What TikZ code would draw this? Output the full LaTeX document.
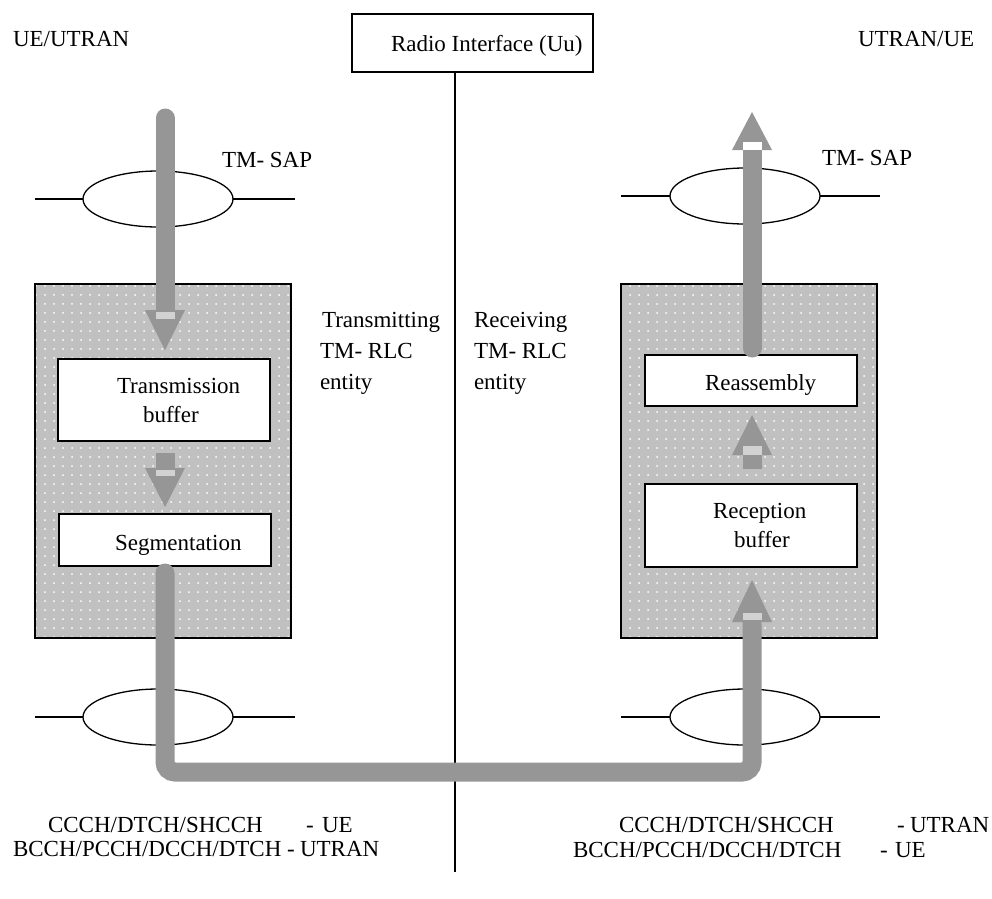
\documentclass[tikz,border=0pt]{standalone}
\usepackage{fontspec}
\setmainfont{Liberation Serif}
\usetikzlibrary{shapes.geometric,patterns.meta}
\definecolor{pipe}{HTML}{969696}
\definecolor{boxfill}{HTML}{C0C0C0}
\definecolor{lightrect}{HTML}{D2D2D2}
\begin{document}
\begin{tikzpicture}[x=1pt,y=-1pt, font=\fontsize{23}{28}\selectfont,
  every node/.style={inner sep=0pt, outer sep=0pt},
  entitybox/.style={draw, line width=1.3pt, fill=boxfill, anchor=north west, minimum width=256pt, minimum height=354pt},
  funcbox/.style={draw, line width=1.3pt, fill=white, anchor=north west},
  sap/.style={draw, ellipse, line width=1.3pt, fill=white, minimum width=150pt, minimum height=56pt},
  sapline/.style={line width=1.3pt},
  pipeline/.style={draw=pipe, line width=19pt, line cap=round, rounded corners=10pt},
  lbl/.style={anchor=base west},
  dots/.style={pattern={Dots[distance=9pt,radius=1pt]}, pattern color=white}]
\useasboundingbox (0,0) rectangle (992,898);

% radio interface
\node[draw, line width=1.3pt, anchor=north west, minimum width=241pt, minimum height=58pt] (radio) at (352,14) {};
\node[lbl] (radiotxt) at (391,51) {Radio Interface (Uu)};
\coordinate (divtop) at (455,72);
\coordinate (divbot) at (455,872);
\draw[line width=1.3pt] (divtop) -- (divbot);

\node[lbl] (uel) at (13,46) {UE/UTRAN};
\node[lbl] (uer) at (858,46) {UTRAN/UE};
\node[lbl] (sapl) at (222,167) {TM- SAP};
\node[lbl] (sapr) at (822,165) {TM- SAP};

% SAP ellipses
\node[sap] (sapTL) at (158,199) {};
\node[sap] (sapTR) at (745,196) {};
\node[sap] (sapBL) at (158,717) {};
\node[sap] (sapBR) at (745,717) {};
\draw[sapline] (35,199) -- (sapTL.west);
\draw[sapline] (sapTL.east) -- (295,199);
\draw[sapline] (621,196) -- (sapTR.west);
\draw[sapline] (sapTR.east) -- (880,196);
\draw[sapline] (35,717) -- (sapBL.west);
\draw[sapline] (sapBL.east) -- (295,717);
\draw[sapline] (621,717) -- (sapBR.west);
\draw[sapline] (sapBR.east) -- (880,717);

% entity boxes
\node[entitybox] (txe) at (35,284) {};
\fill[dots] (txe.north west) rectangle (txe.south east);
\draw[line width=1.3pt] (txe.north west) rectangle (txe.south east);
\node[entitybox] (rxe) at (621,284) {};
\fill[dots] (rxe.north west) rectangle (rxe.south east);
\draw[line width=1.3pt] (rxe.north west) rectangle (rxe.south east);

% functional boxes
\node[funcbox, minimum width=212pt, minimum height=82pt] (tbuf) at (58,359) {};
\node[funcbox, minimum width=212pt, minimum height=52pt] (seg) at (59,514) {};
\node[funcbox, minimum width=212pt, minimum height=51pt] (reas) at (645,355) {};
\node[funcbox, minimum width=212pt, minimum height=83pt] (rbuf) at (645,484) {};
\node[lbl] (t1) at (117,393) {Transmission};
\node[lbl] (t2) at (143,422) {buffer};
\node[lbl] (t3) at (115,550) {Segmentation};
\node[lbl] (t4) at (705,390) {Reassembly};
\node[lbl] (t5) at (713,518) {Reception};
\node[lbl] (t6) at (734,547) {buffer};

% entity labels
\node[lbl] (tx1) at (322,327) {Transmitting};
\node[lbl] (tx2) at (320,358) {TM- RLC};
\node[lbl] (tx3) at (320,389) {entity};
\node[lbl] (rx1) at (474,327) {Receiving};
\node[lbl] (rx2) at (474,358) {TM- RLC};
\node[lbl] (rx3) at (474,389) {entity};

% pipes
\coordinate (pA) at (165,118);
\coordinate (pAe) at (165,312);
\draw[pipeline] (pA) -- (pAe);
\fill[pipe] (145,310) -- (185,310) -- (165,350) -- cycle;
\fill[lightrect] (155.5,312) rectangle (174.5,319);

\fill[pipe] (155.5,453) rectangle (174.5,470);
\fill[pipe] (145,468) -- (185,468) -- (165,507) -- cycle;
\fill[lightrect] (155.5,470) rectangle (174.5,476);

\coordinate (pB) at (165,573);
\coordinate (pBc1) at (165,772);
\coordinate (pBc2) at (752,772);
\coordinate (pBe) at (752,624);
\draw[pipeline] (pB) -- (pBc1) -- (pBc2) -- (pBe);
\fill[pipe] (732,622) -- (772,622) -- (752,580) -- cycle;
\fill[lightrect] (742.5,613) rectangle (761.5,620);

\fill[pipe] (742.5,455) rectangle (761.5,469);
\fill[pipe] (732,455) -- (772,455) -- (752,415) -- cycle;
\fill[lightrect] (742.5,446) rectangle (761.5,455);

\coordinate (pC) at (752,348);
\coordinate (pCe) at (752,148);
\draw[pipeline] (pC) -- (pCe);
\fill[pipe] (732,150) -- (772,150) -- (752,112) -- cycle;
\fill[white] (742.5,142) rectangle (761.5,150);

% bottom labels
\node[lbl] (b1) at (48,832) {CCCH/DTCH/SHCCH};
\node[lbl] (b2) at (306,832) {-};
\node[lbl] (b3) at (322,832) {UE};
\node[lbl] (b4) at (13,856) {BCCH/PCCH/DCCH/DTCH};
\node[lbl] (b5) at (287,856) {-};
\node[lbl] (b6) at (300,856) {UTRAN};
\node[lbl] (c1) at (619,832) {CCCH/DTCH/SHCCH};
\node[lbl] (c2) at (897,832) {-};
\node[lbl] (c3) at (910,832) {UTRAN};
\node[lbl] (c4) at (573,857) {BCCH/PCCH/DCCH/DTCH};
\node[lbl] (c5) at (880,857) {-};
\node[lbl] (c6) at (895,857) {UE};
\end{tikzpicture}
\end{document}
